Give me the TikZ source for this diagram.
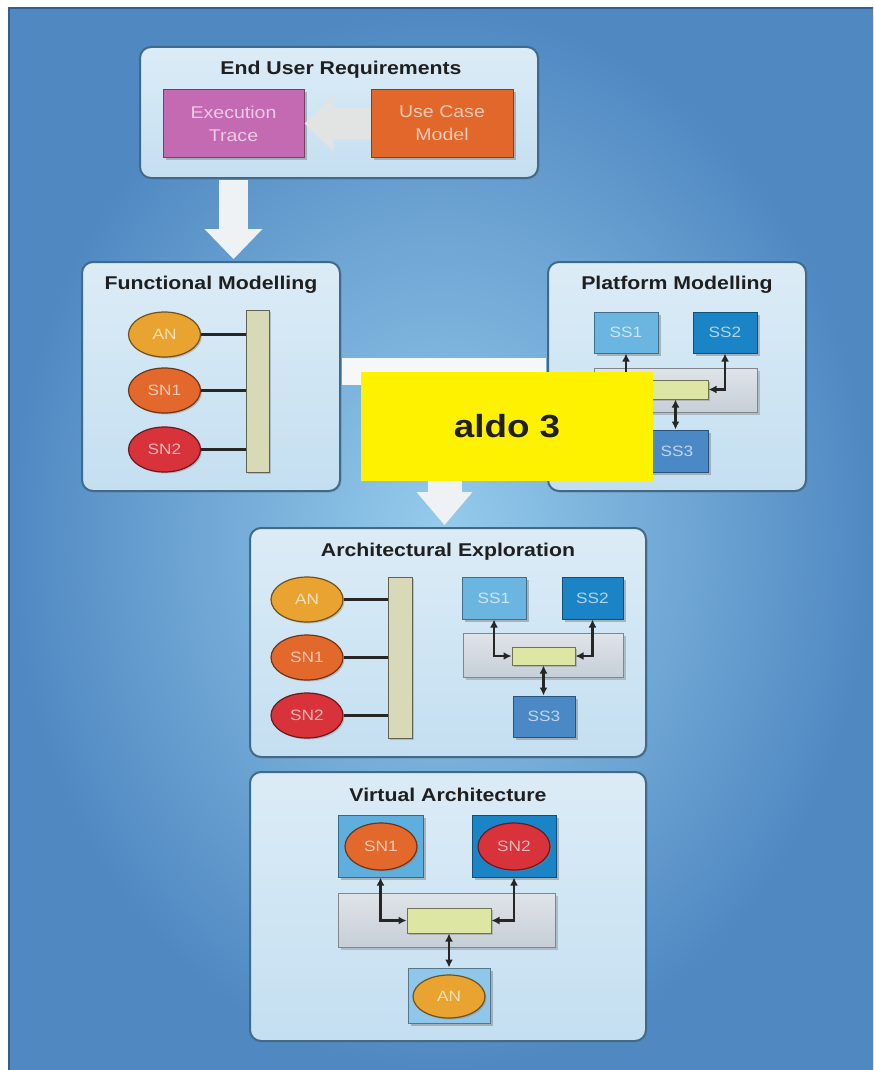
\documentclass[tikz,border=0pt]{standalone}
\usepackage{fontspec}
\setmainfont{Liberation Sans}[FakeStretch=1.15]
\usetikzlibrary{positioning,shadows,shapes.geometric,arrows.meta}
\definecolor{bgin}{HTML}{96CCEC}
\definecolor{bgout}{HTML}{5089C2}
\definecolor{bgline}{HTML}{2E5E92}
\definecolor{panelc}{HTML}{C4DFF1}
\definecolor{panelline}{HTML}{3F6A8C}
\definecolor{tracec}{HTML}{C46AB2}
\definecolor{usecasec}{HTML}{E2672A}
\definecolor{anc}{HTML}{E9A330}
\definecolor{snonec}{HTML}{E2692B}
\definecolor{sntwoc}{HTML}{D8333A}
\definecolor{ssonec}{HTML}{6AB6E1}
\definecolor{sstwoc}{HTML}{1B84C6}
\definecolor{ssthreec}{HTML}{4A88C6}
\definecolor{anboxc}{HTML}{8EC7EA}
\definecolor{busc}{HTML}{C6CED7}
\definecolor{ybarc}{HTML}{DDE6A2}
\definecolor{railc}{HTML}{D7D9B7}
\definecolor{arrowc}{HTML}{EEF2F5}
\definecolor{tagc}{HTML}{FFF200}
\tikzset{
  panel/.style={draw=panelline,line width=2pt,rounded corners=11pt,top color=panelc!60!white,bottom color=panelc,
    drop shadow={opacity=.3,shadow xshift=1.5pt,shadow yshift=-1.5pt}},
  ptitle/.style={font=\bfseries\fontsize{18.5}{21}\selectfont,text=black!88},
  blk/.style={draw=#1!60!black,line width=1pt,fill=#1,text=#1!35!white,align=center,inner sep=0pt,
    font=\fontsize{15}{19}\selectfont,drop shadow={opacity=.5,shadow xshift=2.5pt,shadow yshift=-2.5pt}},
  oval/.style={ellipse,draw=#1!50!black,line width=1.2pt,fill=#1,text=#1!35!white,inner sep=0pt,
    font=\fontsize{15}{18}\selectfont,drop shadow={opacity=.4,shadow xshift=1.5pt,shadow yshift=-1.5pt}},
  rail/.style={draw=railc!45!black,line width=1pt,fill=railc,inner sep=0pt,
    drop shadow={opacity=.4,shadow xshift=2pt,shadow yshift=-1.5pt}},
  bus/.style={draw=busc!65!black,line width=1pt,top color=busc!55!white,bottom color=busc,inner sep=0pt,
    drop shadow={opacity=.4,shadow xshift=2.5pt,shadow yshift=-2.5pt}},
  ybar/.style={draw=ybarc!50!black,line width=1pt,fill=ybarc,inner sep=0pt,
    drop shadow={opacity=.4,shadow xshift=1.5pt,shadow yshift=-1.5pt}},
  link/.style={line width=2.4pt,black!85},
  dlink/.style={line width=2.2pt,black!85,{Latex[length=8pt,width=8pt]}-{Latex[length=8pt,width=8pt]}},
  bigarrow/.style={line width=#1,arrowc},
  band/.style={line width=27pt,arrowc!60!white},
  tag/.style={fill=tagc,inner sep=0pt,font=\bfseries\fontsize{32}{36}\selectfont,text=black!88}
}
\begin{document}
\begin{tikzpicture}[x=1pt,y=-1pt]
\useasboundingbox (0,0) rectangle (873,1070);
\shade[inner color=bgin,outer color=bgout] (9,8) rectangle (873,1070);
\draw[bgline,line width=2pt] (9,1070) -- (9,8) -- (873,8);

% panels
\node[panel,minimum width=398pt,minimum height=131pt] (eur) at (339,112.5) {};
\node[panel,minimum width=258pt,minimum height=229pt] (fm) at (211,376.5) {};
\node[panel,minimum width=258pt,minimum height=229pt] (pm) at (677,376.5) {};
\node[panel,minimum width=396pt,minimum height=229pt] (ae) at (448,642.5) {};
\node[panel,minimum width=396pt,minimum height=269pt] (va) at (448,906.5) {};

% end user requirements
\node[ptitle] (eurt) at (341,70) {End User Requirements};
\node[blk=tracec,minimum width=141pt,minimum height=67pt,font=\fontsize{17}{23}\selectfont] (et) at (233.5,123.5) {Execution\\Trace};
\node[blk=usecasec,minimum width=142pt,minimum height=67pt,font=\fontsize{17}{23}\selectfont] (uc) at (442,123.5) {Use Case\\Model};
\draw[bigarrow=30pt,-{Triangle[length=29pt,width=56pt,line width=0pt]},arrowc!50!gray!40!white] (uc) -- (et);
\draw[bigarrow=29pt,-{Triangle[length=30pt,width=58pt,line width=0pt]},shorten <=1pt,shorten >=2pt] (et.south |- eur.south) -- (et.south |- fm.north);

% functional modelling
\node[ptitle] (fmt) at (211,285) {Functional Modelling};
\node[rail,minimum width=23pt,minimum height=162pt] (frail) at (257.5,391) {};
\foreach \nm/\txt/\col/\y in {fan/AN/anc/334.5,fsn1/SN1/snonec/390.5,fsn2/SN2/sntwoc/449.5}{
  \node[oval=\col,minimum width=72pt,minimum height=45pt] (\nm) at (164.5,\y) {\txt};
  \draw[link] (\nm) -- (\nm -| frail.west);
}

% platform modelling
\node[ptitle] (pmt) at (677,285) {Platform Modelling};
\node[blk=ssonec,minimum width=64pt,minimum height=41pt] (pss1) at (626,332.5) {SS1};
\node[blk=sstwoc,minimum width=64pt,minimum height=41pt] (pss2) at (725,332.5) {SS2};
\node[bus,minimum width=163pt,minimum height=44pt] (pbus) at (675.5,390) {};
\node[ybar,minimum width=65pt,minimum height=19pt] (pyb) at (675.5,389.5) {};
\node[blk=ssthreec,minimum width=62pt,minimum height=42pt] (pss3) at (677,451) {SS3};
\draw[dlink] (pss1.south) |- (pyb.west);
\draw[dlink] (pss2.south) |- (pyb.east);
\draw[dlink] (pyb.south) -- (pyb.south |- pss3.north);

% flow into exploration
\coordinate (junc) at (444.5,371.5);
\draw[bigarrow=34pt,-{Triangle[length=33pt,width=56pt,line width=0pt]},shorten >=2pt] (junc) -- (junc |- ae.north);
\draw[band,shorten <=1pt,shorten >=1pt] (fm.east |- junc) -- (pm.west |- junc);

% architectural exploration
\node[ptitle] (aet) at (448,552) {Architectural Exploration};
\node[rail,minimum width=24pt,minimum height=161pt] (arail) at (400,657.5) {};
\foreach \nm/\txt/\col/\y in {aan/AN/anc/599.5,asn1/SN1/snonec/657.5,asn2/SN2/sntwoc/715.5}{
  \node[oval=\col,minimum width=72pt,minimum height=45pt] (\nm) at (307,\y) {\txt};
  \draw[link] (\nm) -- (\nm -| arail.west);
}
\node[blk=ssonec,minimum width=64pt,minimum height=42pt] (ass1) at (494,598) {SS1};
\node[blk=sstwoc,minimum width=61pt,minimum height=42pt] (ass2) at (592.5,598) {SS2};
\node[bus,minimum width=160pt,minimum height=44pt] (abus) at (543,655) {};
\node[ybar,minimum width=63pt,minimum height=18pt] (ayb) at (543.5,656) {};
\node[blk=ssthreec,minimum width=62pt,minimum height=41pt] (ass3) at (544,716.5) {SS3};
\draw[dlink] (ass1.south) |- (ayb.west);
\draw[dlink] (ass2.south) |- (ayb.east);
\draw[dlink] (ayb.south) -- (ayb.south |- ass3.north);

% virtual architecture
\node[ptitle] (vat) at (448,795) {Virtual Architecture};
\node[blk=ssonec!85!sstwoc,minimum width=85pt,minimum height=62pt] (vc1) at (380.5,846) {};
\node[blk=sstwoc,minimum width=84pt,minimum height=62pt] (vc2) at (514,846) {};
\node[bus,minimum width=217pt,minimum height=54pt] (vbus) at (446.5,920) {};
\node[ybar,minimum width=84pt,minimum height=25pt] (vyb) at (449,920.5) {};
\node[blk=anboxc,minimum width=82pt,minimum height=55pt] (vc3) at (449,995.5) {};
\node[oval=snonec,minimum width=72pt,minimum height=47pt] (vsn1) at (381,846.5) {SN1};
\node[oval=sntwoc,minimum width=72pt,minimum height=47pt] (vsn2) at (514,846.5) {SN2};
\node[oval=anc,minimum width=72pt,minimum height=43pt] (van) at (449,996.5) {AN};
\draw[dlink] (vc1.south) |- (vyb.west);
\draw[dlink] (vc2.south) |- (vyb.east);
\draw[dlink] (vyb.south) -- (vc3.north);

\node[tag,minimum width=292pt,minimum height=109pt] (aldo) at (507,426.5) {aldo 3};
\end{tikzpicture}
\end{document}
